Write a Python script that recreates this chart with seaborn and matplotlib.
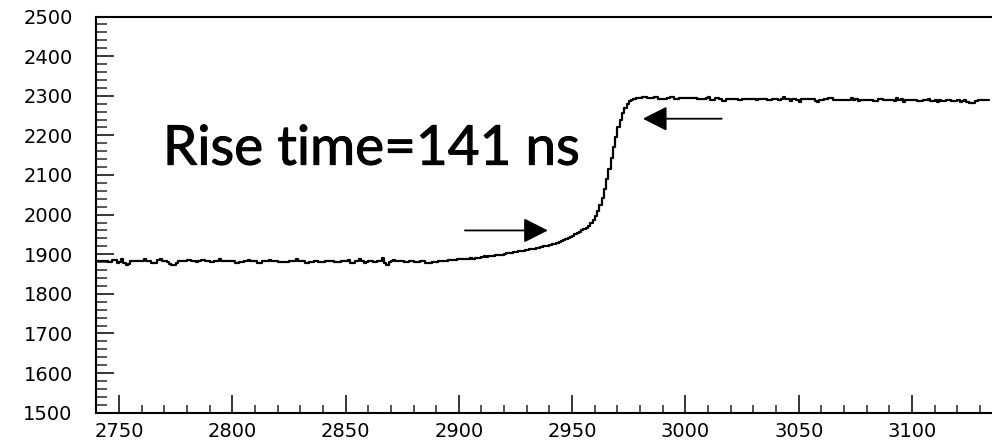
import numpy as np
import pandas as pd
import matplotlib
matplotlib.use("Agg")
import matplotlib.pyplot as plt
import matplotlib.patheffects as pe
import seaborn as sns

# ---- data (one value per 1-unit bin) ----
x_start = 2740
baseline = [
    1884,1884,1884,1884,1884,1880,1880,1886,1886,1878,1880,1888,1878,1874,1876,1882,1882,1882,1882,1884,
    1884,1888,1882,1882,1878,1878,1878,1886,1888,1884,1884,1880,1876,1872,1874,1878,1882,1882,1882,1882,
    1886,1886,1882,1882,1880,1884,1886,1886,1882,1882,1880,1880,1882,1884,1888,1882,1882,1882,1882,1882,
    1882,1878,1878,1880,1880,1884,1884,1886,1882,1882,1882,1878,1878,1882,1882,1884,1886,1882,1882,1882,
    1880,1880,1880,1880,1880,1882,1882,1882,1888,1884,1882,1884,1878,1878,1880,1880,1882,1882,1880,1880,
    1880,1882,1882,1882,1882,1880,1880,1880,1882,1882,1882,1886,1878,1878,1882,1884,1888,1882,1878,1880,
    1884,1884,1880,1880,1882,1884,1890,1878,1874,1880,1884,1886,1882,1882,1884,1884,1880,1880,1882,1882,
    1880,1880,1880,1884,1884,1878,1878,1878,1880,1880,1881,1883,1884,1884,1884,1885,1885,1886,1886,1887,
]
rise = [
    1887,1888,1888,1889,1889,1890,1888,1891,1890,1891,1892,1895,1893,1895,1896,1896,1897,1899,1898,1899,
    1900,1903,1902,1903,1906,1905,1907,1909,1909,1910,1910,1913,1913,1914,1916,1916,1917,1920,1920,1922,
    1923,1926,1927,1929,1932,1933,1936,1939,1941,1944,1947,1951,1953,1956,1960,1963,1967,1972,1979,1987,
    1997,2010,2025,2043,2065,2090,2115,2142,2170,2197,2220,2240,2257,2269,2279,2286,2290,2293,2294,2295,
]
plateau = [
    2295,2297,2297,2295,2295,2295,2298,2298,2291,2291,2293,2293,2295,2298,2298,2291,2291,2295,2295,2295,
    2294,2294,2294,2294,2294,2292,2292,2292,2292,2294,2298,2290,2290,2294,2294,2292,2287,2287,2292,2292,
    2293,2293,2293,2288,2288,2293,2293,2293,2293,2293,2293,2288,2291,2291,2293,2293,2288,2288,2293,2293,
    2293,2288,2293,2296,2291,2291,2287,2291,2293,2289,2285,2291,2291,2291,2293,2293,2291,2287,2285,2288,
    2290,2292,2292,2294,2294,2290,2290,2290,2290,2290,2290,2290,2290,2294,2290,2292,2286,2290,2290,2290,
    2290,2290,2290,2287,2287,2292,2292,2290,2290,2290,2290,2290,2287,2294,2290,2292,2285,2288,2288,2288,
    2289,2289,2287,2287,2287,2289,2289,2291,2287,2287,2289,2285,2289,2287,2287,2290,2290,2287,2287,2287,
    2288,2285,2287,2290,2285,2282,2282,2282,2287,2289,2288,2288,2290,2288,2288,
]
x_ticks = [2750, 2800, 2850, 2900, 2950, 3000, 3050, 3100]
y_ticks = [1500, 1600, 1700, 1800, 1900, 2000, 2100, 2200, 2300, 2400, 2500]
label_text = "Rise time=141 ns"

values = baseline + rise + plateau
df = pd.DataFrame({"t": np.arange(x_start, x_start + len(values)), "adc": values})

sns.set_style("white")
plt.rcParams["font.family"] = ["DejaVu Sans"]

fig = plt.figure(figsize=(9.92, 4.46), dpi=100)
ax = fig.add_axes([96.3 / 992, 33.3 / 446, 895 / 992, 396.2 / 446])

sns.lineplot(data=df, x="t", y="adc", ax=ax, drawstyle="steps-post",
             color="black", linewidth=1.6, estimator=None)

ax.set_xlim(2740, 3135)
ax.set_ylim(1500, 2500)
ax.set_xlabel("")
ax.set_ylabel("")
ax.set_xticks(x_ticks)
ax.set_yticks(y_ticks)
ax.set_xticks(np.arange(2740, 3136, 10), minor=True)
ax.set_yticks(np.arange(1500, 2501, 20), minor=True)

for s in ["left", "bottom", "top"]:
    ax.spines[s].set_visible(True)
    ax.spines[s].set_linewidth(1.5)
    ax.spines[s].set_color("black")
ax.spines["right"].set_visible(False)

ax.tick_params(axis="x", which="major", direction="in", length=13, width=1.1,
               pad=7, labelsize=14, colors="black", bottom=True)
ax.tick_params(axis="x", which="minor", direction="in", length=6, width=1.1, bottom=True)
ax.tick_params(axis="y", which="major", direction="in", length=13, width=1.1,
               pad=17, labelsize=14, colors="black", left=True)
ax.tick_params(axis="y", which="minor", direction="in", length=8, width=1.1, left=True)

ax.text(2769.4, 2126, label_text, fontsize=39.5,
        family=["Lato", "DejaVu Sans"], va="baseline", ha="left", color="black",
        path_effects=[pe.withStroke(linewidth=0.7, foreground="black")])

ax.annotate("", xy=(2939.3, 1960), xytext=(2902.7, 1960),
            arrowprops=dict(arrowstyle="-|>,head_length=0.75,head_width=0.38",
                            mutation_scale=20, lw=1.3, color="black",
                            shrinkA=0, shrinkB=0))
ax.annotate("", xy=(2981.2, 2242), xytext=(3016, 2242),
            arrowprops=dict(arrowstyle="-|>,head_length=0.75,head_width=0.38",
                            mutation_scale=20, lw=1.3, color="black",
                            shrinkA=0, shrinkB=0))

fig.savefig("out.png", dpi=100, facecolor="white")
